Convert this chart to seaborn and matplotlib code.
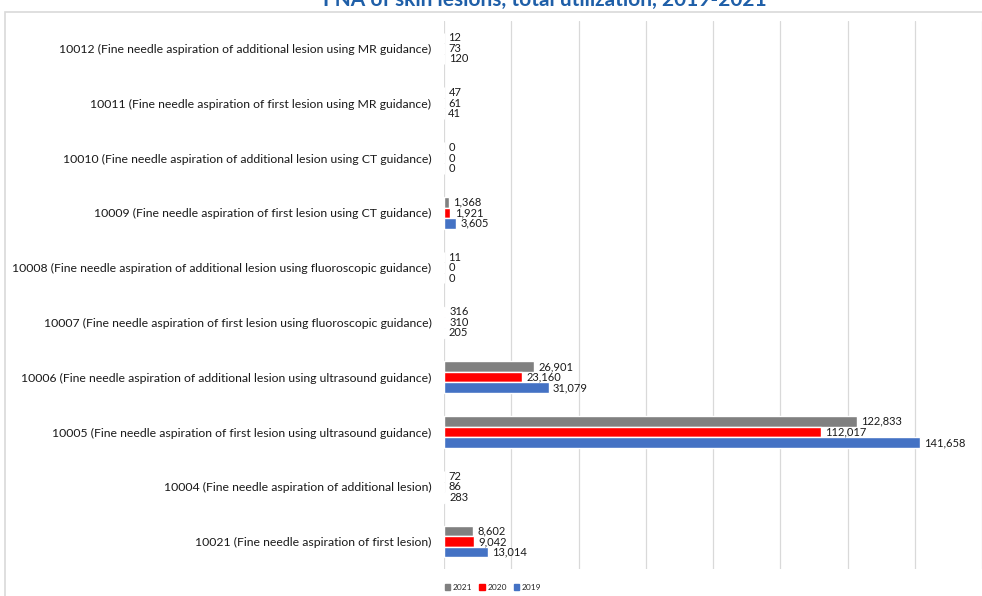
import matplotlib
matplotlib.use("Agg")
import matplotlib.pyplot as plt
import matplotlib.patches as mpatches
import seaborn as sns
import pandas as pd

categories = [
    "10012 (Fine needle aspiration of additional lesion using MR guidance)",
    "10011 (Fine needle aspiration of first lesion using MR guidance)",
    "10010 (Fine needle aspiration of additional lesion using CT guidance)",
    "10009 (Fine needle aspiration of first lesion using CT guidance)",
    "10008 (Fine needle aspiration of additional lesion using fluoroscopic guidance)",
    "10007 (Fine needle aspiration of first lesion using fluoroscopic guidance)",
    "10006 (Fine needle aspiration of additional lesion using ultrasound guidance)",
    "10005 (Fine needle aspiration of first lesion using ultrasound guidance)",
    "10004 (Fine needle aspiration of additional lesion)",
    "10021 (Fine needle aspiration of first lesion)",
]
years = ["2021", "2020", "2019"]
values_2021 = [12, 47, 0, 1368, 11, 316, 26901, 122833, 72, 8602]
values_2020 = [73, 61, 0, 1921, 0, 310, 23160, 112017, 86, 9042]
values_2019 = [120, 41, 0, 3605, 0, 205, 31079, 141658, 283, 13014]
colors = ["#808080", "#FF0000", "#4472C4"]
title = "FNA of skin lesions, total utilization, 2019-2021"

rows = []
for yr, vals in zip(years, [values_2021, values_2020, values_2019]):
    for c, v in zip(categories, vals):
        rows.append({"category": c, "year": yr, "value": v})
df = pd.DataFrame(rows)

sns.set_theme(style="white")
plt.rcParams["font.family"] = ["Lato", "DejaVu Sans"]

fig = plt.figure(figsize=(9.82, 5.96), dpi=100)
ax = fig.add_axes([444/982, 1 - 569/596, 1 - 444/982, (569 - 21)/596])

sns.barplot(data=df, y="category", x="value", hue="year", order=categories,
            hue_order=years, palette=colors, orient="h", width=0.58,
            saturation=1, ax=ax, legend=False)

for cont in ax.containers:
    ax.bar_label(cont, labels=[f"{v:,.0f}" for v in cont.datavalues],
                 padding=3, fontsize=8, color="#1a1a1a")

ax.set_xlim(0, 160000)
ax.set_xticks(range(0, 160001, 20000))
ax.set_xticklabels([])
ax.grid(axis="x", color="#D9D9D9", linewidth=0.9)
ax.grid(axis="y", visible=False)
ax.set_axisbelow(True)
for s in ax.spines.values():
    s.set_visible(False)
ax.set_xlabel("")
ax.set_ylabel("")
ax.tick_params(axis="y", length=0, pad=9, labelsize=8.8, labelcolor="#1a1a1a")
ax.tick_params(axis="x", length=0)

# chart border
fig.patches.append(mpatches.Rectangle((5/982, -0.01), 1.0, 1 - 12/596 + 0.01,
                                      transform=fig.transFigure, fill=False,
                                      edgecolor="#D9D9D9", linewidth=1.2))

fig.text(545/982, 1 - 6/596, title, ha="center", va="baseline",
         fontsize=15, fontweight="bold", color="#1F5FA8")

handles = [mpatches.Patch(color=c, label=y) for c, y in zip(colors, years)]
fig.legend(handles=handles, loc="center", bbox_to_anchor=(493/982, 1 - 587/596),
           ncol=3, frameon=False, fontsize=6, handlelength=0.7, handleheight=0.7,
           handletextpad=0.3, columnspacing=0.8)

fig.savefig("out.png", dpi=100)
